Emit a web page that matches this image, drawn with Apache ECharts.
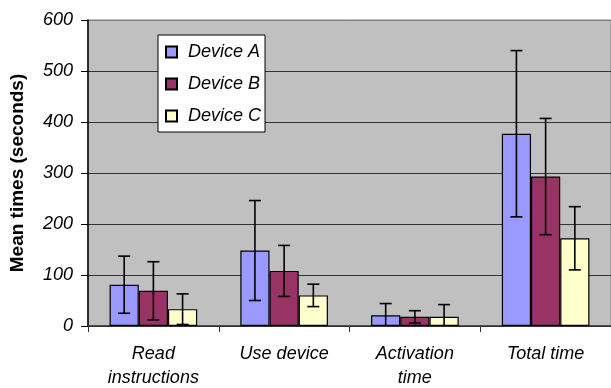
<!DOCTYPE html>
<html>
<head>
<meta charset="utf-8">
<script src="https://cdn.jsdelivr.net/npm/echarts@6/dist/echarts.min.js"></script>
<style>
html,body{margin:0;padding:0;background:#fff;}
#chart{width:611px;height:388px;}
</style>
</head>
<body>
<div id="chart"></div>
<script>
var categories = ['Read\ninstructions', 'Use device', 'Activation\ntime', 'Total time'];
var seriesNames = ['Device A', 'Device B', 'Device C'];
var deviceA = [81, 148, 21, 377];
var deviceB = [69, 108, 18, 293];
var deviceC = [33, 60, 18, 172];
var errA = [56, 98, 23, 163];
var errB = [57, 50, 12, 114];
var errC = [30, 22, 24, 62];
var yTicks = [0, 100, 200, 300, 400, 500, 600];
var colors = ['#9999ff', '#993366', '#ffffcc'];

var FONT = "'Liberation Sans', Arial, sans-serif";
var values = [deviceA, deviceB, deviceC];
var errs = [errA, errB, errC];
var CAT_GAP = 0.33;

var series = [];
values.forEach(function (vals, s) {
  series.push({
    name: seriesNames[s],
    type: 'bar',
    data: vals,
    barGap: '0%',
    barCategoryGap: '33%',
    itemStyle: { color: colors[s], borderColor: '#000', borderWidth: 1.2 },
    z: 2
  });
});
values.forEach(function (vals, s) {
  series.push({
    name: 'err' + s,
    type: 'custom',
    clip: true,
    z: 3,
    data: vals.map(function (v, i) { return [i, v - errs[s][i], v + errs[s][i]]; }),
    renderItem: function (params, api) {
      var ci = api.value(0);
      var lo = api.coord([ci, api.value(1)]);
      var hi = api.coord([ci, api.value(2)]);
      var catW = api.size([1, 0])[0];
      var bw = catW * (1 - CAT_GAP) / 3;
      var x = lo[0] + (s - 1) * bw;
      var cap = 6;
      var st = { stroke: '#000', lineWidth: 1.6 };
      return {
        type: 'group',
        children: [
          { type: 'line', shape: { x1: x, y1: lo[1], x2: x, y2: hi[1] }, style: st },
          { type: 'line', shape: { x1: x - cap, y1: hi[1], x2: x + cap, y2: hi[1] }, style: st },
          { type: 'line', shape: { x1: x - cap, y1: lo[1], x2: x + cap, y2: lo[1] }, style: st }
        ]
      };
    }
  });
});

var chart = echarts.init(document.getElementById('chart'), null, { renderer: 'canvas' });
chart.setOption({
  animation: false,
  textStyle: { fontFamily: FONT },
  grid: {
    left: 88, right: 0, top: 20, bottom: 62,
    containLabel: false,
    outerBoundsMode: 'none',
    show: true, backgroundColor: '#c0c0c0', borderColor: '#808080', borderWidth: 1
  },
  legend: {
    data: seriesNames,
    orient: 'vertical',
    left: 158, top: 35,
    backgroundColor: '#fff',
    borderColor: '#000', borderWidth: 1,
    borderRadius: 0,
    padding: [8, 4, 7, 7],
    itemGap: 14,
    itemWidth: 11, itemHeight: 11,
    icon: 'rect',
    textStyle: { fontFamily: FONT, fontSize: 18, fontStyle: 'italic', color: '#000', padding: [0, 0, 0, 6] }
  },
  xAxis: {
    type: 'category',
    data: categories,
    axisLine: { lineStyle: { color: '#333', width: 1.5 } },
    axisTick: { show: true, length: 6, lineStyle: { color: '#333' } },
    axisLabel: { fontFamily: FONT, fontSize: 18, fontStyle: 'italic', color: '#000', margin: 16, lineHeight: 24 }
  },
  yAxis: {
    type: 'value',
    min: yTicks[0], max: yTicks[yTicks.length - 1], interval: 100,
    name: 'Mean times (seconds)',
    nameLocation: 'middle',
    nameGap: 61,
    nameTextStyle: { fontFamily: FONT, fontSize: 19, fontWeight: 'bold', color: '#000' },
    axisLine: { show: true, lineStyle: { color: '#000', width: 1.5 } },
    axisTick: { show: true, length: 7, lineStyle: { color: '#000' } },
    axisLabel: {
      margin: 15,
      fontStyle: 'italic',
      formatter: '{i|{value}}',
      rich: { i: { fontFamily: FONT, fontSize: 18, fontStyle: 'italic', color: '#000' } }
    },
    splitLine: { show: true, lineStyle: { color: ['#333', '#333', '#333', '#333', '#333', '#333', '#808080'], width: 1.2 } }
  },
  series: series
});
</script>
</body>
</html>
